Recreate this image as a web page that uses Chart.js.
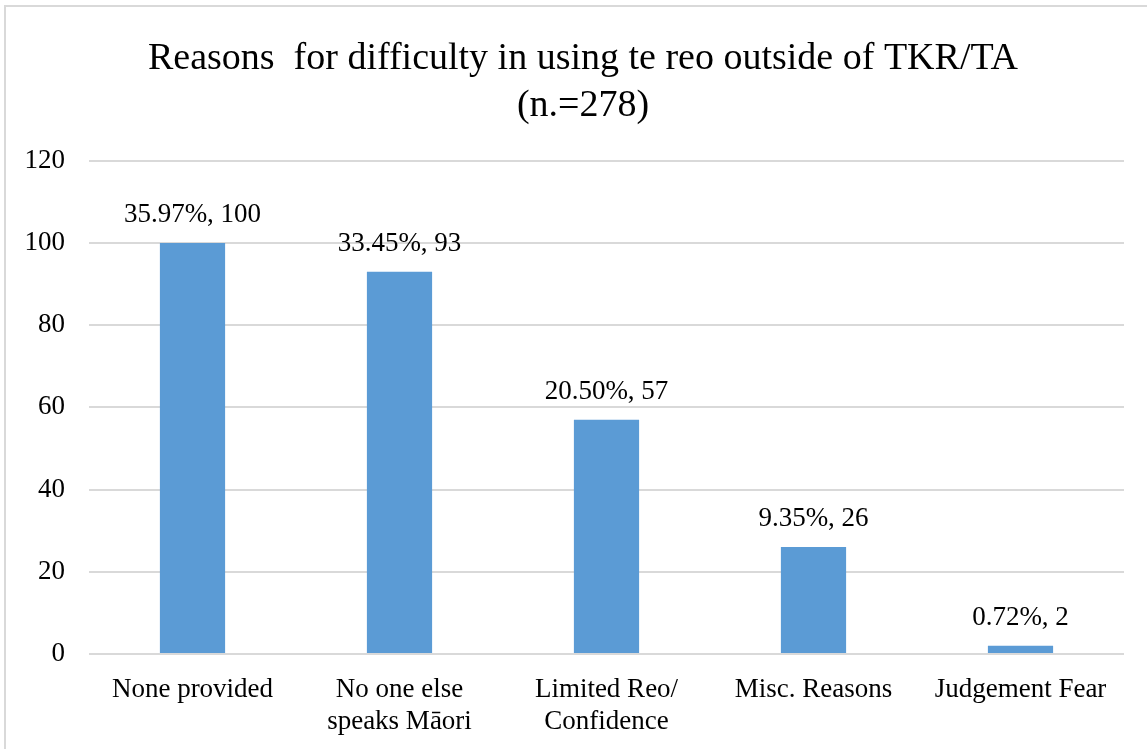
<!DOCTYPE html>
<html>
<head>
<meta charset="utf-8">
<title>Reasons for difficulty in using te reo outside of TKR/TA</title>
<script src="https://cdn.jsdelivr.net/npm/chart.js@4.4.1/dist/chart.umd.min.js"></script>
<style>
  html, body { margin: 0; padding: 0; background: #ffffff; }
  #wrap { width: 1147px; height: 749px; position: relative; }
  canvas { display: block; }
</style>
</head>
<body>
<div id="wrap"><canvas id="chart" width="1147" height="749"></canvas></div>
<script>
// Survey responses (n = 278)
const sampleSize = 278;
const categories = [
  'None provided',
  ['No one else', 'speaks Māori'],
  ['Limited Reo/', 'Confidence'],
  'Misc. Reasons',
  'Judgement Fear'
];
const responseCounts = [100, 93, 57, 26, 2];
const titleLines = ['Reasons  for difficulty in using te reo outside of TKR/TA', '(n.=278)'];
const yTicks = { min: 0, max: 120, step: 20 };

const serif = "'Liberation Serif', 'Times New Roman', Times, serif";

// Light frame around the chart; title centred within the framed area
const framePlugin = {
  id: 'frame',
  afterLayout(chart) {
    const t = chart.titleBlock;
    if (t) {
      t.left = 42;
      t.width = t.right - t.left;
    }
  },
  beforeDraw(chart) {
    const ctx = chart.ctx;
    ctx.save();
    ctx.fillStyle = '#ffffff';
    ctx.fillRect(0, 0, chart.width, chart.height);
    ctx.strokeStyle = '#d9d9d9';
    ctx.lineWidth = 2;
    ctx.strokeRect(5, 6, chart.width + 20, chart.height + 20);
    ctx.restore();
  }
};

// "percent, count" label above each bar
const valueLabelPlugin = {
  id: 'valueLabels',
  afterDatasetsDraw(chart) {
    const ctx = chart.ctx;
    const meta = chart.getDatasetMeta(0);
    const data = chart.data.datasets[0].data;
    ctx.save();
    ctx.font = '27px ' + serif;
    ctx.fillStyle = '#000000';
    ctx.textAlign = 'center';
    ctx.textBaseline = 'alphabetic';
    meta.data.forEach((bar, i) => {
      const v = data[i];
      const pct = (v / sampleSize * 100).toFixed(2) + '%';
      ctx.fillText(pct + ', ' + v, bar.x, bar.y - 21);
    });
    ctx.restore();
  }
};

new Chart(document.getElementById('chart'), {
  type: 'bar',
  data: {
    labels: categories,
    datasets: [{
      data: responseCounts,
      backgroundColor: '#5b9bd5',
      borderWidth: 0,
      categoryPercentage: 1.0,
      barPercentage: 0.315
    }]
  },
  options: {
    responsive: false,
    animation: false,
    devicePixelRatio: 1,
    layout: { padding: { left: 0, right: 23, top: 0, bottom: 0 } },
    plugins: {
      legend: { display: false },
      tooltip: { enabled: false },
      title: {
        display: true,
        text: titleLines,
        color: '#000000',
        font: { family: serif, size: 38, weight: 'normal', lineHeight: 1.22 },
        padding: { top: 36, bottom: 32 }
      }
    },
    scales: {
      x: {
        grid: { display: false, drawTicks: false },
        border: { display: false },
        ticks: {
          color: '#000000',
          font: { family: serif, size: 27, lineHeight: 1.18 },
          padding: 20,
          maxRotation: 0,
          autoSkip: false
        },
        afterFit(scale) { scale.height = 95; }
      },
      y: {
        min: yTicks.min,
        max: yTicks.max,
        grid: { color: '#d9d9d9', lineWidth: 2, drawTicks: false },
        border: { display: false },
        ticks: {
          stepSize: yTicks.step,
          color: '#000000',
          font: { family: serif, size: 27 },
          padding: 24
        },
        afterFit(scale) { scale.width = 89; }
      }
    }
  },
  plugins: [framePlugin, valueLabelPlugin]
});
</script>
</body>
</html>
